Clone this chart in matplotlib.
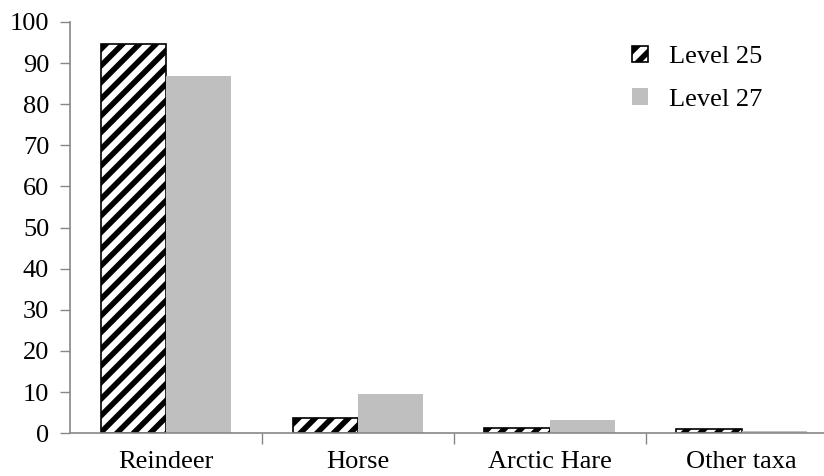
import matplotlib
matplotlib.use('Agg')
import matplotlib.pyplot as plt
from matplotlib.patches import Patch
import numpy as np

categories = ['Reindeer', 'Horse', 'Arctic Hare', 'Other taxa']
level25 = [94.6, 3.6, 1.2, 0.9]
level27 = [86.9, 9.5, 3.1, 0.5]

plt.rcParams['font.family'] = 'Liberation Serif'
plt.rcParams['hatch.linewidth'] = 4

fig = plt.figure(figsize=(8.24, 4.76), dpi=100)
ax = fig.add_axes([0.085, 0.09, 0.915, 0.864])

x = np.arange(len(categories))
w = 0.34
ax.bar(x - w / 2, level25, width=w, color='white', edgecolor='black',
       hatch='//', linewidth=1.2, label='Level 25')
ax.bar(x + w / 2, level27, width=w, color='#bfbfbf', label='Level 27')

ax.set_xlim(-0.5, 3.43)
ax.set_ylim(0, 100)
ax.set_yticks(range(0, 101, 10))
ax.tick_params(axis='y', labelsize=19, color='#888888', length=7, width=1, pad=8)
ax.set_xticks(x)
ax.set_xticklabels(categories, fontsize=19)
ax.tick_params(axis='x', length=0, pad=13)
ax.set_xticks([0.5, 1.5, 2.5], minor=True)
ax.tick_params(axis='x', which='minor', length=8, color='#888888', width=1)

for s in ['top', 'right']:
    ax.spines[s].set_visible(False)
for s in ['left', 'bottom']:
    ax.spines[s].set_color('#888888')
    ax.spines[s].set_linewidth(1.2)

handles = [Patch(facecolor='white', edgecolor='black', hatch='//', linewidth=1.2, label='Level 25'),
           Patch(facecolor='#bfbfbf', label='Level 27')]
ax.legend(handles=handles, loc='upper right', bbox_to_anchor=(0.95, 1.0), frameon=False,
          fontsize=19, handlelength=0.6, handleheight=0.6,
          handletextpad=0.8, labelspacing=0.75)

plt.savefig('out.png', dpi=100)
